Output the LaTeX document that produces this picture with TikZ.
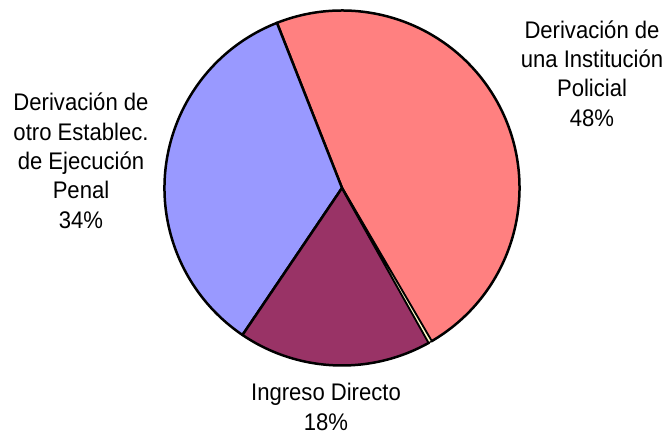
\documentclass[tikz,border=0pt]{standalone}
\usepackage{fontspec}
\setmainfont{Liberation Sans}[FakeStretch=0.92]
\definecolor{pinkslice}{HTML}{FF8080}
\definecolor{blueslice}{HTML}{9999FF}
\definecolor{purpleslice}{HTML}{993366}
\definecolor{tinyslice}{HTML}{FFFFCC}
\tikzset{
  slice/.style={draw=black, line width=2.5pt, line join=round},
  lbl/.style={inner sep=0pt, align=center, anchor=base, font=\fontsize{24}{29.3}\selectfont}
}
\begin{document}
\begin{tikzpicture}[x=1pt,y=1pt]
\useasboundingbox (0,0) rectangle (670,-436);
\coordinate (c) at (342,-188);
\def\R{177.5}
\filldraw[slice, fill=pinkslice] (c) -- ++(-59.7:\R) arc[start angle=-59.7, end angle=111.5, radius=\R] -- cycle;
\filldraw[slice, fill=blueslice] (c) -- ++(111.5:\R) arc[start angle=111.5, end angle=235.9, radius=\R] -- cycle;
\filldraw[slice, fill=purpleslice] (c) -- ++(235.9:\R) arc[start angle=235.9, end angle=299.3, radius=\R] -- cycle;
\filldraw[slice, line width=1.2pt, fill=tinyslice] (c) -- ++(299.3:\R) arc[start angle=299.3, end angle=300.3, radius=\R] -- cycle;
\node[lbl] (left) at (81,-228) {Derivación de\\otro Establec.\\de Ejecución\\Penal\\34\%};
\node[lbl] (right) at (592,-126) {Derivación de\\una Institución\\Policial\\48\%};
\node[lbl] (bottom) at (326,-430) {Ingreso Directo\\18\%};
\end{tikzpicture}
\end{document}
